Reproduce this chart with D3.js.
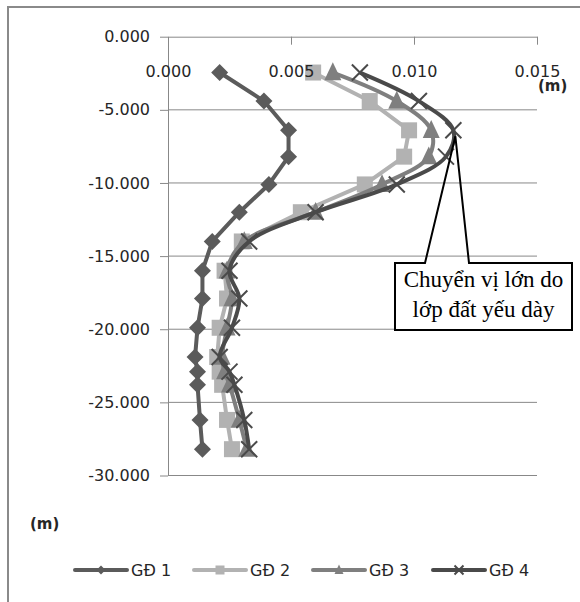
<!DOCTYPE html>
<html>
<head>
<meta charset="utf-8">
<script src="https://cdn.jsdelivr.net/npm/d3@7/dist/d3.min.js"></script>
<style>
  html, body { margin: 0; padding: 0; background: #fff; }
  svg { display: block; }
</style>
</head>
<body>
<svg id="chart" width="580" height="602"></svg>
<script>
// Depth of each measurement point (m) and lateral displacement per stage (m)
const depths = [-2.45, -4.4, -6.4, -8.2, -10.1, -12.0, -14.0, -16.0, -17.9, -19.9, -21.9, -22.9, -23.8, -26.2, -28.2];
const gd1 = [0.0021, 0.0039, 0.0049, 0.0049, 0.0041, 0.0029, 0.0018, 0.0014, 0.0014, 0.0012, 0.0011, 0.0012, 0.0012, 0.0013, 0.0014];
const gd2 = [0.0059, 0.0082, 0.0098, 0.0096, 0.0080, 0.0054, 0.0030, 0.0023, 0.0024, 0.0021, 0.0020, 0.0021, 0.0022, 0.0024, 0.0026];
const gd3 = [0.0067, 0.0093, 0.0107, 0.0106, 0.0087, 0.0060, 0.0031, 0.0024, 0.0026, 0.0024, 0.0022, 0.0023, 0.0025, 0.0029, 0.0032];
const gd4 = [0.0078, 0.0102, 0.0116, 0.0113, 0.0093, 0.0060, 0.0033, 0.0025, 0.0029, 0.0026, 0.0021, 0.0025, 0.0027, 0.0031, 0.0033];
const seriesNames = ["GĐ 1", "GĐ 2", "GĐ 3", "GĐ 4"];
const xTicks = [0, 0.005, 0.010, 0.015];
const yTicks = [0, -5, -10, -15, -20, -25, -30];
const calloutLines = ["Chuyển vị lớn do", "lớp đất yếu dày"];

const svg = d3.select("#chart");
const font = "'DejaVu Sans', sans-serif";
const axisColor = "#888";
const textColor = "#262626";

// outer frame of the chart area
svg.append("rect")
  .attr("x", 8).attr("y", 7).attr("width", 620).attr("height", 640)
  .attr("fill", "#fff").attr("stroke", "#8a8a8a").attr("stroke-width", 2);

const x = d3.scaleLinear().domain([0, 0.015]).range([168, 537]);
const y = d3.scaleLinear().domain([0, -30]).range([36.7, 475.5]);

// horizontal gridlines
svg.append("g").selectAll("line")
  .data(yTicks.filter(d => d !== 0))
  .join("line")
  .attr("x1", x(0)).attr("x2", x(0.015))
  .attr("y1", d => y(d)).attr("y2", d => y(d))
  .attr("stroke", axisColor).attr("stroke-width", 1);

// depth axis
const yAxis = svg.append("g")
  .attr("transform", `translate(${x(0)},0)`)
  .call(d3.axisLeft(y).tickValues(yTicks).tickFormat(d3.format(".3f")).tickSize(8).tickPadding(10).tickSizeOuter(0));
yAxis.select(".domain").attr("stroke", axisColor);
yAxis.selectAll(".tick line").attr("stroke", axisColor);
yAxis.selectAll(".tick text").attr("font-family", font).attr("font-size", 16).attr("fill", textColor)
  .text(d => d3.format(".3f")(d).replace("−", "-"));

// series styling
const series = [
  { name: seriesNames[0], values: gd1, color: "#5b5b5b", marker: "diamond", size: 17, curve: d3.curveLinear },
  { name: seriesNames[1], values: gd2, color: "#b2b2b2", marker: "square", size: 16, curve: d3.curveLinear },
  { name: seriesNames[2], values: gd3, color: "#7f7f7f", marker: "triangle", size: 17, curve: d3.curveCatmullRom.alpha(0.5) },
  { name: seriesNames[3], values: gd4, color: "#4a4a4a", marker: "cross", size: 16, curve: d3.curveCatmullRom.alpha(0.5) }
];

function drawMarker(g, type, color, size) {
  if (type === "diamond") {
    const h = size / 2;
    g.append("path").attr("d", `M0,${-h}L${h},0L0,${h}L${-h},0Z`).attr("fill", color);
  } else if (type === "square") {
    g.append("rect").attr("x", -size / 2).attr("y", -size / 2).attr("width", size).attr("height", size).attr("fill", color);
  } else if (type === "triangle") {
    g.append("path").attr("d", `M0,${-size * 0.6}L${size * 0.5},${size * 0.45}L${-size * 0.5},${size * 0.45}Z`).attr("fill", color);
  } else {
    const h = size / 2;
    g.append("path").attr("d", `M${-h},${-h}L${h},${h}M${-h},${h}L${h},${-h}`)
      .attr("stroke", color).attr("stroke-width", 2).attr("fill", "none");
  }
}

const plot = svg.append("g");
series.forEach(s => {
  const pts = s.values.map((v, i) => [v, depths[i]]);
  const line = d3.line().x(d => x(d[0])).y(d => y(d[1])).curve(s.curve);
  plot.append("path").datum(pts).attr("d", line)
    .attr("fill", "none").attr("stroke", s.color).attr("stroke-width", 4)
    .attr("stroke-linejoin", "round");
  pts.forEach(p => {
    const g = plot.append("g").attr("transform", `translate(${x(p[0])},${y(p[1])})`);
    drawMarker(g, s.marker, s.color, s.size);
  });
});

// value axis along the top, labels sit below the line (drawn over the series)
const xAxis = svg.append("g")
  .attr("transform", `translate(0,${y(0)})`)
  .call(d3.axisBottom(x).tickValues(xTicks).tickFormat(d3.format(".3f")).tickSize(8).tickPadding(21).tickSizeOuter(0));
xAxis.select(".domain").attr("stroke", axisColor);
xAxis.selectAll(".tick line").attr("stroke", axisColor);
xAxis.selectAll(".tick text").attr("font-family", font).attr("font-size", 16).attr("fill", textColor);

// unit labels
svg.append("text").attr("x", 538).attr("y", 91)
  .attr("font-family", font).attr("font-weight", "bold").attr("font-size", 15).attr("fill", textColor)
  .text("(m)");
svg.append("text").attr("x", 30).attr("y", 529)
  .attr("font-family", font).attr("font-weight", "bold").attr("font-size", 15).attr("fill", textColor)
  .text("(m)");

// callout pointing to the peak displacement of the last stage
const peakIdx = d3.maxIndex(gd4);
const ax = x(gd4[peakIdx]) + 2, ay = y(depths[peakIdx]) + 6;
const bx0 = 395, bx1 = 572, by0 = 263, by1 = 330, px0 = 425, px1 = 469;
svg.append("path")
  .attr("d", `M${bx0},${by0}L${px0},${by0}L${ax},${ay}L${px1},${by0}L${bx1},${by0}L${bx1},${by1}L${bx0},${by1}Z`)
  .attr("fill", "none").attr("stroke", "#000").attr("stroke-width", 2);
svg.append("rect").attr("x", bx0 + 1).attr("y", by0 + 1).attr("width", bx1 - bx0 - 2).attr("height", by1 - by0 - 2).attr("fill", "#fff");
svg.append("g").selectAll("text")
  .data(calloutLines)
  .join("text")
  .attr("x", (bx0 + bx1) / 2).attr("y", (d, i) => 287 + i * 30)
  .attr("text-anchor", "middle")
  .attr("font-family", "'Liberation Serif', serif").attr("font-size", 23).attr("fill", "#000")
  .text(d => d);

// legend
const legendX = [75, 194, 313, 433];
const legend = svg.append("g").selectAll("g")
  .data(series)
  .join("g")
  .attr("transform", (d, i) => `translate(${legendX[i]},570)`);
legend.append("line").attr("x1", 0).attr("x2", 52).attr("y1", 0).attr("y2", 0)
  .attr("stroke", d => d.color).attr("stroke-width", 4).attr("stroke-linecap", "round");
legend.each(function (d) {
  const g = d3.select(this).append("g").attr("transform", "translate(26,0)");
  drawMarker(g, d.marker, d.color, 9);
});
legend.append("text").attr("x", 56).attr("y", 6)
  .attr("font-family", font).attr("font-size", 16).attr("fill", textColor)
  .text(d => d.name);
</script>
</body>
</html>
